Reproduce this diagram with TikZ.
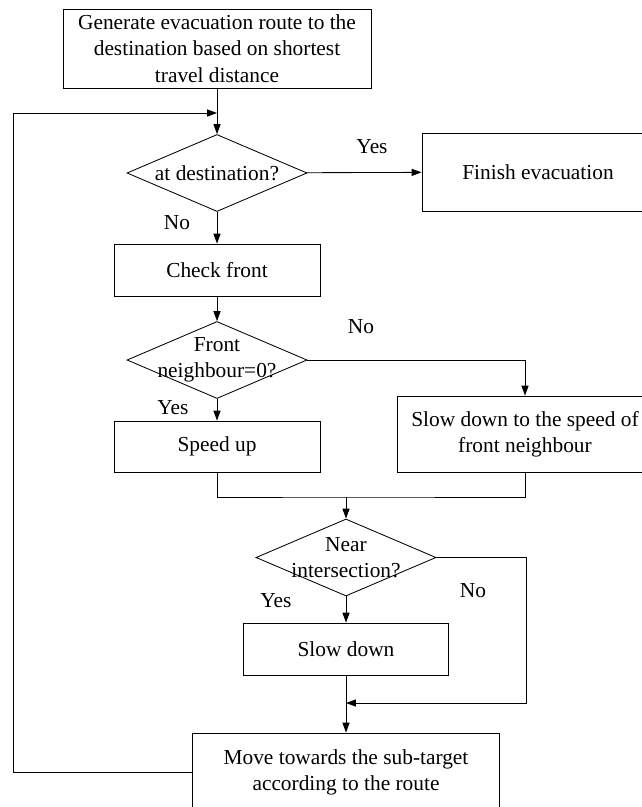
\documentclass[tikz,border=0pt]{standalone}
\usepackage{fontspec}
\setmainfont{Liberation Serif}
\usetikzlibrary{arrows.meta,shapes.geometric}

\begin{document}
\begin{tikzpicture}[x=0.025cm,y=-0.025cm,line width=0.6pt,
    every node/.style={font=\fontsize{15.2pt}{18.8pt}\selectfont},
    box/.style={draw,rectangle,align=center,inner sep=0pt},
    decision/.style={draw,diamond,inner sep=0pt,minimum width=4.5cm,minimum height=1.925cm},
    arr/.style={-{Triangle[length=7pt,width=5pt]}},
    lbl/.style={inner sep=0pt}]
        \clip (0,0) rectangle (642,807);

        % Boxes
        \node[box,minimum width=7.7cm,minimum height=1.975cm] (gen) at (217,48.5)
            {Generate evacuation route to the\\destination based on shortest\\travel distance};
        \node[decision,label={[align=center]center:at destination?}] (dest) at (217,173) {};
        \node[box,minimum width=5.8cm,minimum height=1.95cm] (finish) at (538,172) {Finish evacuation};
        \node[box,minimum width=5.15cm,minimum height=1.3cm] (check) at (217,270) {Check front};
        \node[decision,label={[align=center]center:Front\\neighbour=0?}] (front) at (217,360) {};
        \node[box,minimum width=5.15cm,minimum height=1.275cm] (speed) at (217,446.5) {Speed up};
        \node[box,minimum width=6.4cm,minimum height=1.9cm] (slowfront) at (525,434)
            {Slow down to the speed of\\front neighbour};
        \node[decision,label={[align=center]center:Near\\intersection?}] (near) at (346,557.5) {};
        \node[box,minimum width=5.125cm,minimum height=1.3cm] (slow) at (346,649) {Slow down};
        \node[box,minimum width=7.675cm,minimum height=1.975cm] (move) at (346,772.5)
            {Move towards the sub-target\\according to the route};

        % Junctions
        \coordinate (jtop) at (217,113);
        \coordinate (lft) at (13,113);
        \coordinate (mrg) at (346,497);
        \coordinate (jbot) at (346,703);
        \coordinate (rgt) at (526,703);

        % Connectors
        \draw[arr] (gen) -- (dest);
        \draw[arr] (move.west) -| (lft) -- (jtop);
        \draw[arr] (dest) -- (finish);
        \draw[arr] (dest) -- (check);
        \draw[arr] (check) -- (front);
        \draw[arr] (front.east) -| (slowfront.north);
        \draw[arr] (front) -- (speed);
        \draw (speed.south) |- (mrg) -| (slowfront.south);
        \draw[arr] (mrg) -- (near.north);
        \draw[arr] (near) -- (slow);
        \draw[arr] (near.east) -| (rgt) -- (jbot);
        \draw[arr] (slow) -- (move);

        % Labels
        \node[lbl] (yes1) at (372,147) {Yes};
        \node[lbl] (no1) at (177,223) {No};
        \node[lbl] (no2) at (361,327) {No};
        \node[lbl] (yes2) at (173,408) {Yes};
        \node[lbl] (yes3) at (276,601) {Yes};
        \node[lbl] (no3) at (473,591) {No};
\end{tikzpicture}
\end{document}
